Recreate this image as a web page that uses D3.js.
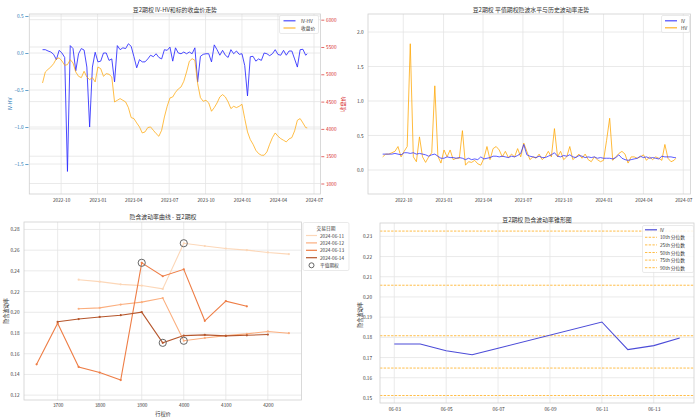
<!DOCTYPE html>
<html><head><meta charset="utf-8">
<script src="https://cdn.jsdelivr.net/npm/d3@7"></script>
<style>body{margin:0;background:#fff}svg{display:block}</style>
</head><body><svg id="c" width="700" height="419"></svg>
<script>
// ---------- DATA ----------
const weekDates = ["2022-08-15","2022-08-22","2022-08-29","2022-09-05","2022-09-12","2022-09-19","2022-09-26","2022-10-03","2022-10-10","2022-10-17",
"2022-10-24","2022-10-31","2022-11-07","2022-11-14","2022-11-21","2022-11-28","2022-12-05","2022-12-12","2022-12-19","2022-12-26",
"2023-01-02","2023-01-09","2023-01-16","2023-01-23","2023-01-30","2023-02-06","2023-02-13","2023-02-20","2023-02-27","2023-03-06",
"2023-03-13","2023-03-20","2023-03-27","2023-04-03","2023-04-10","2023-04-17","2023-04-24","2023-05-01","2023-05-08","2023-05-15",
"2023-05-22","2023-05-29","2023-06-05","2023-06-12","2023-06-19","2023-06-26","2023-07-03","2023-07-10","2023-07-17","2023-07-24",
"2023-07-31","2023-08-07","2023-08-14","2023-08-21","2023-08-28","2023-09-04","2023-09-11","2023-09-18","2023-09-25","2023-10-02",
"2023-10-09","2023-10-16","2023-10-23","2023-10-30","2023-11-06","2023-11-13","2023-11-20","2023-11-27","2023-12-04","2023-12-11",
"2023-12-18","2023-12-25","2024-01-01","2024-01-08","2024-01-15","2024-01-22","2024-01-29","2024-02-05","2024-02-12","2024-02-19",
"2024-02-26","2024-03-04","2024-03-11","2024-03-18","2024-03-25","2024-04-01","2024-04-08","2024-04-15","2024-04-22","2024-04-29",
"2024-05-06","2024-05-13","2024-05-20","2024-05-27","2024-06-03","2024-06-10","2024-06-14"];
const ivHvValues = [0.045,0.045,0.027,0.013,-0.018,-0.09,0.036,0.0,-0.06,-1.6,
0.10,0.06,-0.24,-0.01,0.06,0.04,-0.19,-1.0,-0.19,0.01,
-0.12,-0.11,0.0,0.0,-0.1,-0.08,-0.39,0.10,0.045,0.07,
0.06,0.125,0.09,-0.05,-0.2,-0.09,-0.12,-0.12,-0.08,-0.03,
-0.05,-0.01,-0.06,-0.08,0.045,0.036,0.08,-0.11,0.07,0.0,
-0.01,0.013,-0.01,0.013,-0.01,0.07,-0.39,-0.045,-0.018,-0.01,
-0.01,-0.12,0.11,0.045,-0.03,0.036,-0.03,-0.06,0.045,-0.01,
0.027,-0.018,-0.01,-0.17,-0.58,-0.05,-0.045,-0.11,-0.08,-0.1,
0.0,-0.01,-0.036,-0.01,0.045,-0.02,-0.03,0.036,-0.03,0.027,
0.027,-0.08,-0.19,0.045,0.05,-0.03,-0.01];
const closeValues = [4841,5042,5091,5134,5195,5286,5300,5244,5165,5177,
5268,5207,5042,4963,4939,5055,4951,4902,4939,4860,
5134,5103,4963,5012,5000,4951,4494,4524,4555,4524,
4494,4390,4207,4189,4109,4036,3926,3945,4024,4036,
3975,3914,3865,3975,4219,4414,4567,4585,4670,4731,
4768,4872,5042,5238,5286,5256,4829,4573,4506,4524,
4475,4323,4390,4475,4585,4628,4585,4494,4372,4414,
4390,4414,4451,4189,3945,3804,3719,3609,3548,3518,
3518,3579,3719,3841,3926,3865,3822,3792,3762,3816,
3841,3963,4158,4189,4109,4024,4018];
const ivValues = [0.23,0.23,0.23,0.23,0.24,0.23,0.22,0.25,0.25,0.24,
0.25,0.23,0.24,0.23,0.22,0.20,0.22,0.23,0.20,0.17,
0.17,0.19,0.18,0.18,0.17,0.18,0.17,0.15,0.17,0.15,
0.16,0.15,0.19,0.16,0.17,0.18,0.20,0.20,0.19,0.20,
0.19,0.18,0.20,0.19,0.21,0.24,0.37,0.22,0.20,0.19,
0.18,0.20,0.18,0.18,0.20,0.22,0.25,0.20,0.19,0.21,
0.20,0.22,0.19,0.18,0.21,0.20,0.18,0.19,0.18,0.19,
0.17,0.18,0.17,0.17,0.17,0.16,0.18,0.22,0.17,0.15,
0.14,0.15,0.16,0.17,0.20,0.18,0.19,0.17,0.18,0.17,
0.16,0.20,0.19,0.19,0.19,0.18,0.18];
const hvValues = [0.19,0.23,0.23,0.25,0.27,0.34,0.19,0.27,0.34,1.83,
0.19,0.12,0.48,0.19,0.11,0.19,0.25,1.22,0.20,0.10,
0.29,0.19,0.29,0.15,0.17,0.17,0.57,0.07,0.12,0.11,
0.14,0.09,0.07,0.17,0.34,0.15,0.31,0.34,0.29,0.19,
0.27,0.18,0.23,0.19,0.31,0.19,0.39,0.27,0.15,0.19,
0.17,0.23,0.15,0.19,0.27,0.19,0.60,0.19,0.27,0.15,
0.19,0.34,0.15,0.19,0.23,0.17,0.23,0.15,0.12,0.19,
0.15,0.12,0.14,0.43,0.75,0.14,0.19,0.24,0.27,0.23,
0.10,0.19,0.19,0.17,0.19,0.22,0.14,0.19,0.15,0.19,
0.17,0.14,0.37,0.17,0.12,0.14,0.17];
const dateTickLabels = ["2022-10","2023-01","2023-04","2023-07","2023-10","2024-01","2024-04","2024-07"];
const ivHvTicks = [-1.5,-1.0,-0.5,0.0,0.5];
const closeTicks = [3000,3500,4000,4500,5000,5500,6000];
const volTicks = [0.0,0.5,1.0,1.5,2.0];

const smileDates = ["2024-06-11","2024-06-12","2024-06-13","2024-06-14"];
const smileStrikes = [
  [3750,3800,3850,3900,3950,4000,4050,4100,4150,4200,4250],
  [3750,3800,3850,3900,3950,4000,4050,4100,4150,4200,4250],
  [3650,3700,3750,3800,3850,3900,3950,4000,4050,4100,4150],
  [3700,3750,3800,3850,3900,3950,4000,4050,4100,4150,4200]];
const smileIV = [
  [0.2315,0.2296,0.2270,0.2258,0.2226,0.2667,0.2640,0.2616,0.2600,0.2578,0.2562],
  [0.2034,0.2043,0.2075,0.2098,0.2138,0.1725,0.1752,0.1775,0.1792,0.1815,0.1798],
  [0.1498,0.1895,0.1472,0.1418,0.1345,0.2478,0.2348,0.2415,0.1918,0.2108,0.2058],
  [0.1908,0.1935,0.1955,0.1972,0.2002,0.1705,0.1775,0.1782,0.1772,0.1778,0.1785]];
const atmStrikes = [4000,4000,3900,3950];
const atmIV = [0.2667,0.1725,0.2478,0.1705];
const strikeTicks = [3700,3800,3900,4000,4100,4200];
const smileYTicks = [0.12,0.14,0.16,0.18,0.20,0.22,0.24,0.26,0.28];

const coneDates = ["2024-06-03","2024-06-04","2024-06-05","2024-06-06","2024-06-07","2024-06-11","2024-06-12","2024-06-13","2024-06-14"];
const coneIV = [0.1767,0.1767,0.1734,0.1714,0.1746,0.1876,0.1739,0.1759,0.1797];
const pctLabels = ["10th 分位数","25th 分位数","50th 分位数","75th 分位数","90th 分位数"];
const pctValues = [0.1512,0.1648,0.1808,0.2058,0.2326];
const coneXTicks = ["2024-06-03","2024-06-05","2024-06-07","2024-06-09","2024-06-11","2024-06-13"];
const coneYTicks = [0.15,0.16,0.17,0.18,0.19,0.20,0.21,0.22,0.23];

// ---------- STYLE ----------
const FF = '"Noto Sans CJK SC","DejaVu Sans",sans-serif';
const TS = 4.7, TITLE = 5.9, LAB = 5.2;
const GRID = '#e4e4e4', SPINE = '#d0d0d0', TXT = '#333';
const BLUE = '#2a2aff', ORANGE = '#ffa500';
const smileColors = ['#fcd7b8','#fbae7e','#ee7d45','#b5562c'];

const svg = d3.select('#c');
svg.append('rect').attr('width',700).attr('height',419).attr('fill','#fff');
const parseD = d3.timeParse('%Y-%m-%d');
const parseM = d3.timeParse('%Y-%m');
const padT = (e,f)=>{const s=(e[1]-e[0])*f;return [new Date(+e[0]-s),new Date(+e[1]+s)];};
const padL = (e,f)=>{const s=(e[1]-e[0])*f;return [e[0]-s,e[1]+s];};

function text(x,y,str,o={}){
  const t=svg.append('text').attr('x',x).attr('y',y).text(str).attr('font-family',FF)
    .attr('font-size',o.size||TS).attr('fill',o.color||TXT).attr('text-anchor',o.anchor||'start')
    .attr('dominant-baseline','central');
  if(o.rotate) t.attr('transform',`rotate(${o.rotate},${x},${y})`);
  return t;
}
function frame(b){svg.append('rect').attr('x',b.l).attr('y',b.t).attr('width',b.r-b.l).attr('height',b.b-b.t)
  .attr('fill','none').attr('stroke',SPINE).attr('stroke-width',0.8);}
function gridV(s,vals,b){svg.append('g').selectAll('line').data(vals).join('line')
  .attr('x1',d=>s(d)).attr('x2',d=>s(d)).attr('y1',b.t).attr('y2',b.b).attr('stroke',GRID).attr('stroke-width',0.8);}
function gridH(s,vals,b){svg.append('g').selectAll('line').data(vals).join('line')
  .attr('y1',d=>s(d)).attr('y2',d=>s(d)).attr('x1',b.l).attr('x2',b.r).attr('stroke',GRID).attr('stroke-width',0.8);}
function styleAxis(g,color){
  g.attr('font-family',FF).attr('font-size',TS);
  g.select('.domain').remove();
  g.selectAll('text').attr('fill',color||TXT);
  g.selectAll('line').attr('stroke',color||TXT).attr('stroke-width',0.7);
}
function legendBox(x,y,w,h){svg.append('rect').attr('x',x).attr('y',y).attr('width',w).attr('height',h).attr('rx',1.5)
  .attr('fill','#fff').attr('fill-opacity',0.85).attr('stroke','#dcdcdc').attr('stroke-width',0.6);}
function legendLine(x,y,len,color,o={}){
  const l=svg.append('line').attr('x1',x).attr('x2',x+len).attr('y1',y).attr('y2',y).attr('stroke',color)
    .attr('stroke-width',o.w||1.1).attr('stroke-opacity',o.op||1);
  if(o.dash) l.attr('stroke-dasharray',o.dash);
}

// ---------- PANEL 1 ----------
{
  const B={l:29.3,r:320.5,t:14,b:194};
  const dates=weekDates.map(parseD);
  const x=d3.scaleTime().domain(padT(d3.extent(dates),0.05)).range([B.l,B.r]);
  const yL=d3.scaleLinear().domain([-1.905,0.527]).range([B.b,B.t]);
  const yR=d3.scaleLinear().domain([2808,6104]).range([B.b,B.t]);
  const xt=dateTickLabels.map(parseM);
  gridV(x,xt,B); gridH(yL,ivHvTicks,B); gridH(yR,closeTicks,B);
  const data=dates.map((d,i)=>({d,v:ivHvValues[i],c:closeValues[i]}));
  svg.append('path').datum(data).attr('fill','none').attr('stroke',BLUE).attr('stroke-opacity',0.85).attr('stroke-width',1)
    .attr('d',d3.line().x(d=>x(d.d)).y(d=>yL(d.v)));
  svg.append('path').datum(data).attr('fill','none').attr('stroke',ORANGE).attr('stroke-opacity',0.8).attr('stroke-width',0.9)
    .attr('d',d3.line().x(d=>x(d.d)).y(d=>yR(d.c)));
  frame(B);
  const gx=svg.append('g').attr('transform',`translate(0,${B.b})`)
    .call(d3.axisBottom(x).tickValues(xt).tickFormat(d3.timeFormat('%Y-%m')).tickSize(0).tickPadding(5));
  styleAxis(gx);
  const gl=svg.append('g').attr('transform',`translate(${B.l-0.8},0)`)
    .call(d3.axisLeft(yL).tickValues(ivHvTicks).tickFormat(d3.format('.1f')).tickSize(3.2).tickPadding(1.8));
  styleAxis(gl,'#1f77b4');
  const gr=svg.append('g').attr('transform',`translate(${B.r+0.8},0)`)
    .call(d3.axisRight(yR).tickValues(closeTicks).tickFormat(d3.format('d')).tickSize(3).tickPadding(1.8));
  styleAxis(gr,'#d62728');
  text((B.l+B.r)/2,9.3,'豆2期权 IV-HV和标的收盘价走势',{size:TITLE,anchor:'middle'});
  text(9,(B.t+B.b)/2,'IV-HV',{size:LAB,anchor:'middle',rotate:-90,color:'#1f77b4'});
  text(342,(B.t+B.b)/2,'收盘价',{size:LAB,anchor:'middle',rotate:-90,color:'#d62728'});
  legendBox(279.5,15.5,39,18);
  legendLine(283.5,20.8,12,BLUE,{op:0.85,w:1.2});
  legendLine(283.5,28,12,ORANGE,{op:0.8,w:1.2});
  text(301,20.8,'IV-HV'); text(301,28,'收盘价');
}

// ---------- PANEL 2 ----------
{
  const B={l:368,r:690.5,t:14,b:194};
  const dates=weekDates.map(parseD);
  const x=d3.scaleTime().domain(padT(d3.extent(dates),0.05)).range([B.l,B.r]);
  const y=d3.scaleLinear().domain([-0.348,2.261]).range([B.b,B.t]);
  const xt=dateTickLabels.map(parseM);
  gridV(x,xt,B); gridH(y,volTicks,B);
  const data=dates.map((d,i)=>({d,iv:ivValues[i],hv:hvValues[i]}));
  svg.append('path').datum(data).attr('fill','none').attr('stroke',ORANGE).attr('stroke-opacity',0.85).attr('stroke-width',0.9)
    .attr('d',d3.line().x(d=>x(d.d)).y(d=>y(d.hv)));
  svg.append('path').datum(data).attr('fill','none').attr('stroke',BLUE).attr('stroke-opacity',0.85).attr('stroke-width',0.9)
    .attr('d',d3.line().x(d=>x(d.d)).y(d=>y(d.iv)));
  frame(B);
  const gx=svg.append('g').attr('transform',`translate(0,${B.b})`)
    .call(d3.axisBottom(x).tickValues(xt).tickFormat(d3.timeFormat('%Y-%m')).tickSize(0).tickPadding(5));
  styleAxis(gx);
  const gy=svg.append('g').attr('transform',`translate(${B.l},0)`)
    .call(d3.axisLeft(y).tickValues(volTicks).tickFormat(d3.format('.1f')).tickSize(0).tickPadding(4.5));
  styleAxis(gy);
  text(531,9.3,'豆2期权 平值期权隐波水平与历史波动率走势',{size:TITLE,anchor:'middle'});
  legendBox(661.5,15.5,28,17);
  legendLine(665,20.8,12,BLUE,{op:0.85,w:1.2});
  legendLine(665,27.8,12,ORANGE,{op:0.85,w:1.2});
  text(681,20.8,'IV'); text(681,27.8,'HV');
}

// ---------- PANEL 3 ----------
{
  const B={l:24,r:301.5,t:222,b:400};
  const allK=smileStrikes.flat();
  const x=d3.scaleLinear().domain(padL(d3.extent(allK),0.05)).range([B.l,B.r]);
  const y=d3.scaleLinear().domain([0.1153,0.2872]).range([B.b,B.t]);
  gridV(x,strikeTicks,B); gridH(y,smileYTicks,B);
  smileDates.forEach((dt,si)=>{
    const pts=smileStrikes[si].map((k,i)=>({k,v:smileIV[si][i]}));
    svg.append('path').datum(pts).attr('fill','none').attr('stroke',smileColors[si]).attr('stroke-width',1.1)
      .attr('d',d3.line().x(d=>x(d.k)).y(d=>y(d.v)));
    svg.append('g').selectAll('circle').data(pts).join('circle').attr('cx',d=>x(d.k)).attr('cy',d=>y(d.v))
      .attr('r',1.1).attr('fill',smileColors[si]);
  });
  svg.append('g').selectAll('circle').data(atmStrikes.map((k,i)=>({k,v:atmIV[i]}))).join('circle')
    .attr('cx',d=>x(d.k)).attr('cy',d=>y(d.v)).attr('r',3.6).attr('fill','none').attr('stroke','#666').attr('stroke-width',1);
  frame(B);
  const gx=svg.append('g').attr('transform',`translate(0,${B.b})`)
    .call(d3.axisBottom(x).tickValues(strikeTicks).tickFormat(d3.format('d')).tickSize(0).tickPadding(3.5));
  styleAxis(gx);
  const gy=svg.append('g').attr('transform',`translate(${B.l},0)`)
    .call(d3.axisLeft(y).tickValues(smileYTicks).tickFormat(d3.format('.2f')).tickSize(0).tickPadding(4.5));
  styleAxis(gy);
  text(163,216,'隐含波动率曲线 - 豆2期权',{size:TITLE,anchor:'middle'});
  text(163,413,'行权价',{size:LAB,anchor:'middle'});
  text(5,311,'隐含波动率',{size:LAB,anchor:'middle',rotate:-90});
  legendBox(303,222.5,46,48);
  text(326,228,'交易日期',{anchor:'middle'});
  smileDates.forEach((dt,i)=>{
    const yy=235.5+i*7.4;
    legendLine(306,yy,11,smileColors[i],{w:1.2});
    text(320,yy,dt);
  });
  svg.append('circle').attr('cx',311.5).attr('cy',265.3).attr('r',2.5).attr('fill','none').attr('stroke','#555').attr('stroke-width',0.9);
  text(320,265.3,'平值期权');
}

// ---------- PANEL 4 ----------
{
  const B={l:380,r:694,t:223,b:403};
  const dates=coneDates.map(parseD);
  const x=d3.scaleTime().domain(padT(d3.extent(dates),0.05)).range([B.l,B.r]);
  const y=d3.scaleLinear().domain([0.1475,0.2366]).range([B.b,B.t]);
  const xt=coneXTicks.map(parseD);
  gridV(x,xt,B); gridH(y,coneYTicks,B);
  svg.append('g').selectAll('line').data(pctValues).join('line')
    .attr('x1',B.l).attr('x2',B.r).attr('y1',d=>y(d)).attr('y2',d=>y(d))
    .attr('stroke',ORANGE).attr('stroke-opacity',0.8).attr('stroke-width',0.9).attr('stroke-dasharray','2.4,1.3');
  const pts=dates.map((d,i)=>({d,v:coneIV[i]}));
  svg.append('path').datum(pts).attr('fill','none').attr('stroke','#4b4bd8').attr('stroke-width',1.1)
    .attr('d',d3.line().x(d=>x(d.d)).y(d=>y(d.v)));
  frame(B);
  const gx=svg.append('g').attr('transform',`translate(0,${B.b})`)
    .call(d3.axisBottom(x).tickValues(xt).tickFormat(d3.timeFormat('%m-%d')).tickSize(0).tickPadding(5));
  styleAxis(gx);
  const gy=svg.append('g').attr('transform',`translate(${B.l},0)`)
    .call(d3.axisLeft(y).tickValues(coneYTicks).tickFormat(d3.format('.2f')).tickSize(0).tickPadding(8));
  styleAxis(gy);
  text(537,219,'豆2期权 隐含波动率锥形图',{size:TITLE,anchor:'middle'});
  text(359,315,'隐含波动率',{size:LAB,anchor:'middle',rotate:-90});
  legendBox(642.5,225.5,51,47);
  legendLine(645,229.8,12,'#4b4bd8',{w:1.2});
  text(660,229.8,'IV');
  pctLabels.forEach((lab,i)=>{
    const yy=237.3+i*7.6;
    legendLine(645,yy,12,ORANGE,{op:0.8,w:0.9,dash:'2.4,1.3'});
    text(660,yy,lab);
  });
}
</script></body></html>
